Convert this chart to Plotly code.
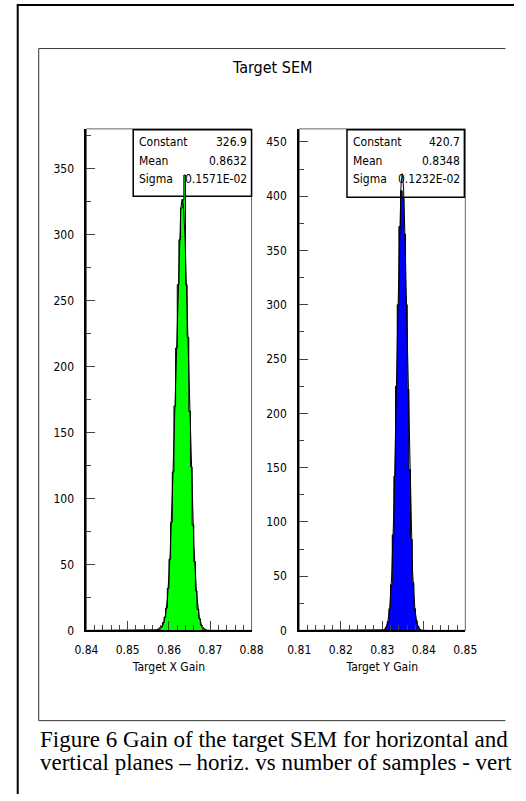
import numpy as np
import plotly.graph_objects as go

# ---------------- data ----------------
BIN_WIDTH = 0.0004

x_bin_centers = [0.8574, 0.8578, 0.8582, 0.8586, 0.8590, 0.8594, 0.8598, 0.8602, 0.8606, 0.8610,
                 0.8614, 0.8618, 0.8622, 0.8626, 0.8630, 0.8634, 0.8638, 0.8642, 0.8646, 0.8650,
                 0.8654, 0.8658, 0.8662, 0.8666, 0.8670, 0.8674, 0.8678, 0.8682, 0.8686]
x_counts = [1, 2, 3, 6, 10, 17, 32, 54, 82, 120,
            170, 214, 262, 296, 320, 326, 345, 262, 222, 166,
            124, 80, 52, 30, 16, 9, 4, 2, 1]

y_bin_centers = [0.8306, 0.8310, 0.8314, 0.8318, 0.8322, 0.8326, 0.8330, 0.8334, 0.8338, 0.8342,
                 0.8346, 0.8350, 0.8354, 0.8358, 0.8362, 0.8366, 0.8370, 0.8374, 0.8378, 0.8382,
                 0.8386, 0.8390]
y_counts = [1, 3, 8, 20, 42, 88, 142, 225, 300, 372,
            405, 398, 365, 300, 222, 148, 84, 44, 20, 9,
            4, 1]

# Gaussian fit parameters (from stats boxes)
x_fit = {"Constant": 326.9, "Mean": 0.8632, "Sigma": 0.1571e-02}
y_fit = {"Constant": 420.7, "Mean": 0.8348, "Sigma": 0.1232e-02}
x_fit_labels = ["326.9", "0.8632", "0.1571E-02"]
y_fit_labels = ["420.7", "0.8348", "0.1232E-02"]

x_axis_range = [0.84, 0.88]
y_axis_range = [0.81, 0.85]
x_tickvals = [0.84, 0.85, 0.86, 0.87, 0.88]
y_tickvals = [0.81, 0.82, 0.83, 0.84, 0.85]
x_ticktext = ["0.84", "0.85", "0.86", "0.87", "0.88"]
y_ticktext = ["0.81", "0.82", "0.83", "0.84", "0.85"]
left_count_max = 380
right_count_max = 462

title_text = "Target SEM"
caption_lines = ["Figure 6 Gain of the target SEM for horizontal and",
                 "vertical planes \u2013 horiz. vs number of samples - vert"]

# ---------------- helpers ----------------
W, H = 526, 801
HIGZ = ("Liberation Sans Narrow, DejaVu Sans Condensed, Noto Sans Condensed, "
        "Roboto Condensed, Roboto, sans-serif")
SERIF = "Liberation Serif, Times New Roman, serif"


def px(x):
    return x / W


def py(y):
    return 1 - y / H


def step_xy(centers, counts):
    xs = [centers[0] - BIN_WIDTH / 2]
    ys = [0]
    for c, v in zip(centers, counts):
        xs.append(c - BIN_WIDTH / 2)
        ys.append(v)
    xs.append(centers[-1] + BIN_WIDTH / 2)
    ys.append(0)
    return xs, ys


def gauss_curve(p, rng):
    xs = np.linspace(rng[0], rng[1], 801)
    ys = p["Constant"] * np.exp(-0.5 * ((xs - p["Mean"]) / p["Sigma"]) ** 2)
    return xs, ys


fig = go.Figure()

hx, hy = step_xy(x_bin_centers, x_counts)
fig.add_trace(go.Scatter(x=hx, y=hy, mode="lines", line=dict(shape="hv", color="black", width=1),
                         fill="tozeroy", fillcolor="#00ff00", xaxis="x", yaxis="y",
                         hoverinfo="skip", showlegend=False))
gx, gy = gauss_curve(x_fit, x_axis_range)
fig.add_trace(go.Scatter(x=gx, y=gy, mode="lines", line=dict(color="black", width=1),
                         xaxis="x", yaxis="y", hoverinfo="skip", showlegend=False))

hx, hy = step_xy(y_bin_centers, y_counts)
fig.add_trace(go.Scatter(x=hx, y=hy, mode="lines", line=dict(shape="hv", color="black", width=1),
                         fill="tozeroy", fillcolor="#0000ff", xaxis="x2", yaxis="y2",
                         hoverinfo="skip", showlegend=False))
gx, gy = gauss_curve(y_fit, y_axis_range)
fig.add_trace(go.Scatter(x=gx, y=gy, mode="lines", line=dict(color="black", width=1),
                         xaxis="x2", yaxis="y2", hoverinfo="skip", showlegend=False))

tickfont = dict(family=HIGZ, size=12, color="black")
titlefont = dict(family=HIGZ, size=12, color="black")

common_x = dict(showgrid=False, zeroline=False, showline=True, linecolor="black", linewidth=2,
                ticks="inside", ticklen=9, tickwidth=1, tickcolor="#444",
                minor=dict(ticks="inside", ticklen=5, dtick=0.002, tickcolor="#444", showgrid=False),
                tickfont=tickfont, fixedrange=True, ticklabelstandoff=7)
common_y = dict(showgrid=False, zeroline=False, showline=True, linecolor="black", linewidth=2,
                ticks="inside", ticklen=9, tickwidth=1, tickcolor="#444",
                minor=dict(ticks="inside", ticklen=5, dtick=25, tickcolor="#444", showgrid=False),
                tickfont=tickfont, fixedrange=True, dtick=50, tick0=0, ticklabelstandoff=8)

y_dom = [py(636), py(130)]
fig.update_layout(
    width=W, height=H,
    margin=dict(l=0, r=0, t=0, b=0),
    paper_bgcolor="white", plot_bgcolor="rgba(0,0,0,0)",
    showlegend=False,
    xaxis=dict(common_x, domain=[px(78), px(251)], range=x_axis_range, tickvals=x_tickvals,
               ticktext=x_ticktext, anchor="y",
               title=dict(text="Target X Gain", font=titlefont, standoff=7)),
    yaxis=dict(common_y, domain=y_dom, range=[0, left_count_max], anchor="x"),
    xaxis2=dict(common_x, domain=[px(301), px(475)], range=y_axis_range, tickvals=y_tickvals,
                ticktext=y_ticktext, anchor="y2",
                title=dict(text="Target Y Gain", font=titlefont, standoff=7)),
    yaxis2=dict(common_y, domain=y_dom, range=[0, right_count_max], anchor="x2"),
)

shapes = []
# outer page border (top + left)
shapes.append(dict(type="line", xref="paper", yref="paper", x0=px(5), x1=1, y0=py(5), y1=py(5),
                   line=dict(color="black", width=2)))
shapes.append(dict(type="line", xref="paper", yref="paper", x0=px(6), x1=px(6), y0=py(5), y1=0,
                   line=dict(color="black", width=2)))
# inner canvas frame
for seg in [(28, 49, 517, 49), (28, 49, 28, 727), (28, 727, 517, 727)]:
    shapes.append(dict(type="line", xref="paper", yref="paper", x0=px(seg[0]), y0=py(seg[1]),
                       x1=px(seg[2]), y1=py(seg[3]), line=dict(color="#333", width=1)))
# plot frames
for xr, yr in [("x domain", "y domain"), ("x2 domain", "y2 domain")]:
    shapes.append(dict(type="rect", xref=xr, yref=yr, x0=0, x1=1, y0=0, y1=1,
                       line=dict(color="#666", width=1), layer="below"))
# stats boxes
for (x0, x1, y0, y1) in [(127, 251, 131, 198), (351, 474, 131, 199)]:
    shapes.append(dict(type="rect", xref="paper", yref="paper", x0=px(x0), x1=px(x1),
                       y0=py(y1), y1=py(y0), line=dict(color="black", width=1.5),
                       fillcolor="white", layer="below"))
fig.update_layout(shapes=shapes)

ann = []
ann.append(dict(text=title_text, xref="paper", yref="paper", x=px(272), y=py(68),
                xanchor="center", yanchor="middle", showarrow=False,
                font=dict(family=HIGZ, size=16, color="black")))
row_names = ["Constant", "Mean", "Sigma"]
row_y = [143, 162, 181]
for (lx, rx, labels) in [(131, 248, x_fit_labels), (355, 471, y_fit_labels)]:
    for name, yy, val in zip(row_names, row_y, labels):
        ann.append(dict(text=name, xref="paper", yref="paper", x=px(lx), y=py(yy),
                        xanchor="left", yanchor="middle", showarrow=False,
                        font=dict(family=HIGZ, size=12, color="black")))
        ann.append(dict(text=val, xref="paper", yref="paper", x=px(rx), y=py(yy),
                        xanchor="right", yanchor="middle", showarrow=False,
                        font=dict(family=HIGZ, size=12, color="black")))
for line, yy in zip(caption_lines, [746, 769]):
    ann.append(dict(text=line, xref="paper", yref="paper", x=px(27), y=py(yy),
                    xanchor="left", yanchor="middle", showarrow=False,
                    font=dict(family=SERIF, size=23, color="black")))
fig.update_layout(annotations=ann)

fig.write_html("out.html")
